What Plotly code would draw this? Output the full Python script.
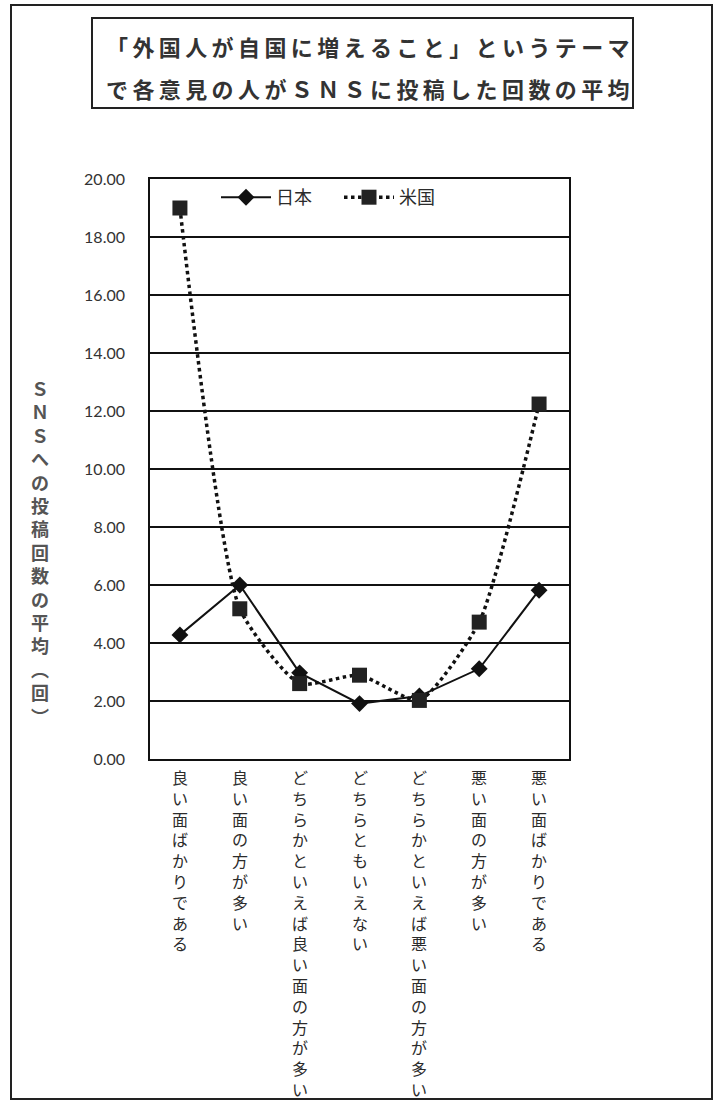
import plotly.graph_objects as go

# Opinion categories (x axis) and mean SNS post counts per series
categories = [
    "良い面ばかりである",
    "良い面の方が多い",
    "どちらかといえば良い面の方が多い",
    "どちらともいえない",
    "どちらかといえば悪い面の方が多い",
    "悪い面の方が多い",
    "悪い面ばかりである",
]
japan = [4.28, 6.00, 2.97, 1.91, 2.17, 3.11, 5.82]
usa = [19.00, 5.18, 2.60, 2.89, 2.02, 4.72, 12.24]
series_names = ["日本", "米国"]

title_lines = [
    "「外国人が自国に増えること」というテーマ",
    "で各意見の人がＳＮＳに投稿した回数の平均",
]
y_title = "ＳＮＳへの投稿回数の平均︵回︶"

W, H = 719, 1100
L, R, T, B = 150, 150, 179, 341
PW, PH = W - L - R, H - T - B


def px(x):
    return (x - L) / PW


def py(y):
    return 1 - (y - T) / PH


JP_FONT = "Noto Sans CJK JP"
INK = "#2b2b2b"

fig = go.Figure()
fig.add_trace(go.Scatter(
    x=categories, y=japan, name=series_names[0], mode="lines+markers",
    line=dict(color="#111111", width=2),
    marker=dict(symbol="diamond", size=13, color="#111111"),
))
fig.add_trace(go.Scatter(
    x=categories, y=usa, name=series_names[1], mode="lines+markers",
    line=dict(color="#111111", width=3.5, dash="dot", shape="spline", smoothing=0.55),
    marker=dict(symbol="square", size=15, color="#222222"),
))

annotations = []
# vertical category labels under each point
for c in categories:
    annotations.append(dict(
        x=c, xref="x", y=0, yref="paper", yanchor="top", xanchor="center",
        yshift=-4, showarrow=False, align="center",
        text="<br>".join(list(c)),
        font=dict(family=JP_FONT, size=16, color=INK),
    ))

# vertical axis title
annotations.append(dict(
    x=px(40), y=py(552), xref="paper", yref="paper",
    xanchor="center", yanchor="middle", showarrow=False, align="center",
    text="<br>".join(list(y_title)),
    font=dict(family=JP_FONT, size=18, color="#555555", weight="bold"),
))

# boxed title, two lines
for line, yc in zip(title_lines, [46, 88]):
    annotations.append(dict(
        x=px(368), y=py(yc), xref="paper", yref="paper",
        xanchor="center", yanchor="middle", showarrow=False,
        text="\u2009".join(list(line)),
        font=dict(family=JP_FONT, size=22, color="#333333", weight="bold"),
    ))

shapes = [
    dict(type="rect", xref="paper", yref="paper",
         x0=px(11), x1=px(712), y0=py(5), y1=py(1099),
         line=dict(color="#222222", width=2)),
    dict(type="rect", xref="paper", yref="paper",
         x0=px(92), x1=px(633), y0=py(18), y1=py(108),
         line=dict(color="#222222", width=2)),
]

fig.update_layout(
    width=W, height=H,
    margin=dict(l=L, r=R, t=T, b=B),
    paper_bgcolor="white", plot_bgcolor="white",
    showlegend=True,
    legend=dict(
        orientation="h", x=px(216), y=py(179), xanchor="left", yanchor="top",
        bgcolor="rgba(0,0,0,0)", font=dict(family=JP_FONT, size=18, color=INK),
        itemwidth=50, entrywidth=58, entrywidthmode="pixels",
    ),
    xaxis=dict(
        type="category", range=[-0.5, 6.5], showticklabels=False,
        showgrid=False, showline=True, mirror=True,
        linecolor="#111111", linewidth=1.5, ticks="",
    ),
    yaxis=dict(
        range=[0, 20], dtick=2, tickformat=".2f",
        showgrid=True, gridcolor="#111111", gridwidth=1.6,
        showline=True, mirror=True, linecolor="#111111", linewidth=1.6,
        ticks="", ticklabelstandoff=20, zeroline=False,
        tickfont=dict(family="Lato", size=16, color="#333333"),
    ),
    annotations=annotations,
    shapes=shapes,
)

fig.write_html("out.html")
